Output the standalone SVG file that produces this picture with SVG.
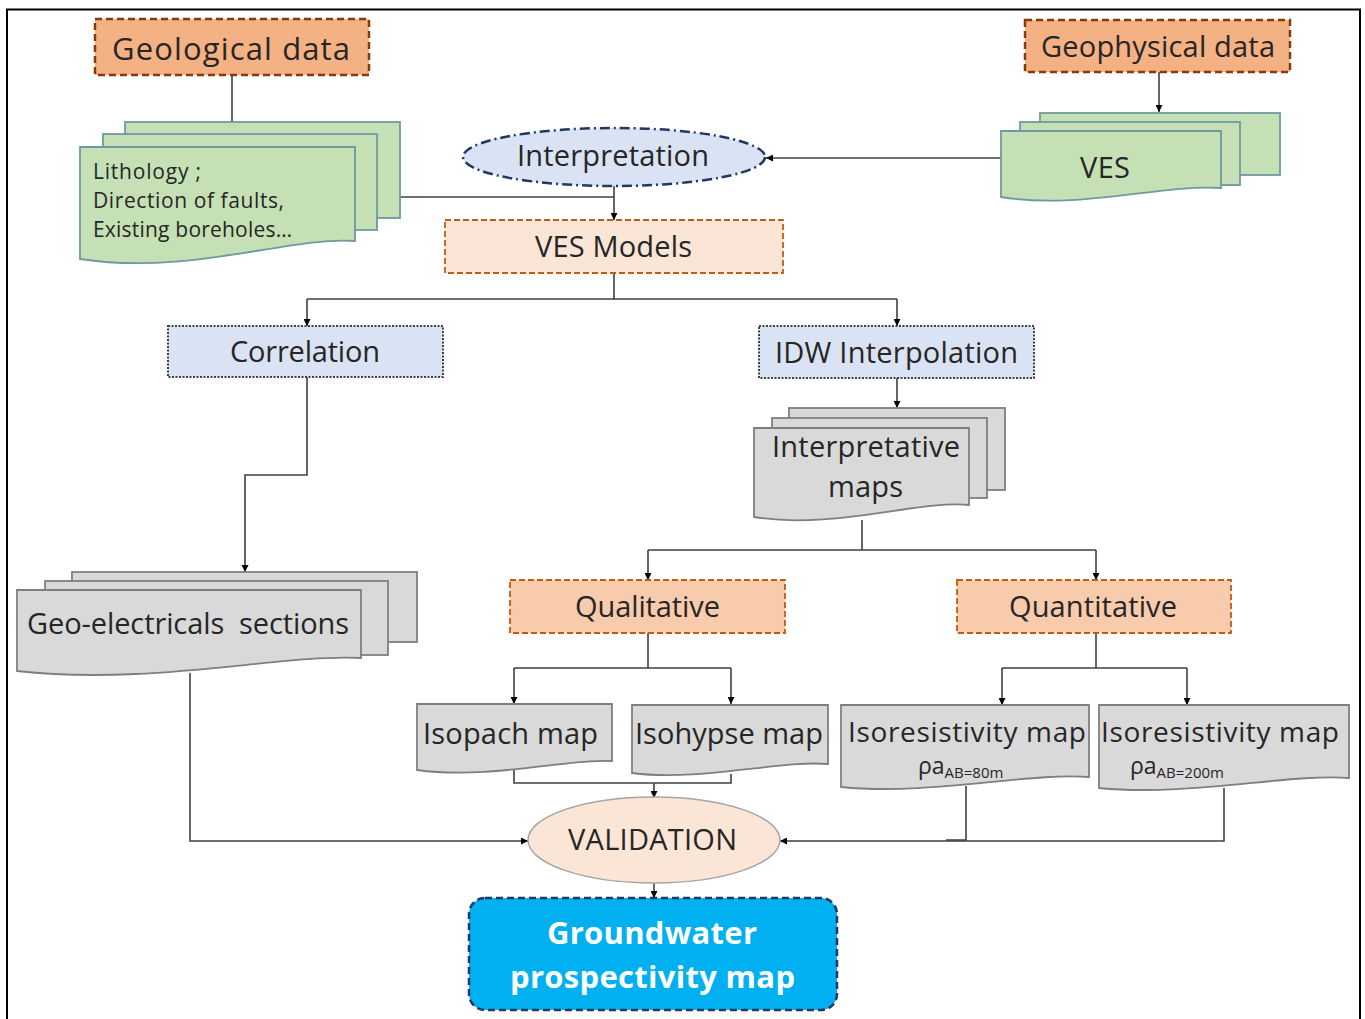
<svg xmlns="http://www.w3.org/2000/svg" width="1365" height="1019" viewBox="0 0 1365 1019">
<style>
text{font-family:"Open Sans","Noto Sans","DejaVu Sans",sans-serif;fill:#262626}
.t28{font-size:29px}
.t20{font-size:21px}
.orange{fill:#f4b183;stroke:#843c0c;stroke-width:2.5;stroke-dasharray:7 4}
.peach{fill:#fbe5d6;stroke:#c55a11;stroke-width:1.8;stroke-dasharray:6 3}
.orange2{fill:#f8cbad;stroke:#c55a11;stroke-width:1.8;stroke-dasharray:6 3}
.blue{fill:#dae3f3;stroke:#404040;stroke-width:2;stroke-dasharray:2 1.5}
.green{fill:#c5e0b4;stroke:#6f9aa0;stroke-width:1.8}
.grey{fill:#d9d9d9;stroke:#7f7f7f;stroke-width:1.8}
.conn{fill:none;stroke:#404040;stroke-width:1.6}
.gw{font-size:31px;font-weight:bold;fill:#fff}
</style>
<defs>
<marker id="ah" viewBox="0 0 10 10" refX="10" refY="5" markerWidth="7" markerHeight="7" markerUnits="userSpaceOnUse" orient="auto">
<path d="M0,0 L10,5 L0,10 z" fill="#000"/>
</marker>
</defs>
<rect x="0" y="0" width="1365" height="1019" fill="#fff"/>
<rect x="7" y="9.5" width="1353" height="1030" fill="none" stroke="#000" stroke-width="2"/>

<g id="connectors">
<path class="conn" d="M232,76 V122"/>
<path class="conn" d="M1159,72 V112" marker-end="url(#ah)"/>
<path class="conn" d="M1001,158 H766" marker-end="url(#ah)"/>
<path class="conn" d="M400,197 H614"/>
<path class="conn" d="M614,186 V220" marker-end="url(#ah)"/>
<path class="conn" d="M614,273 V299 M307,299 H897"/>
<path class="conn" d="M307,299 V326" marker-end="url(#ah)"/>
<path class="conn" d="M897,299 V326" marker-end="url(#ah)"/>
<path class="conn" d="M307,377 V475 H245 V572" marker-end="url(#ah)"/>
<path class="conn" d="M897,378 V408" marker-end="url(#ah)"/>
<path class="conn" d="M862,520 V550 M648,550 H1096"/>
<path class="conn" d="M648,550 V580" marker-end="url(#ah)"/>
<path class="conn" d="M1096,550 V580" marker-end="url(#ah)"/>
<path class="conn" d="M648,633 V668 M514,668 H731"/>
<path class="conn" d="M514,668 V704" marker-end="url(#ah)"/>
<path class="conn" d="M731,668 V704" marker-end="url(#ah)"/>
<path class="conn" d="M1096,633 V668 M1002,668 H1187"/>
<path class="conn" d="M1002,668 V705" marker-end="url(#ah)"/>
<path class="conn" d="M1187,668 V705" marker-end="url(#ah)"/>
<path class="conn" d="M514,770 V783 H731 V774"/>
<path class="conn" d="M654,783 V798" marker-end="url(#ah)"/>
<path class="conn" d="M190,673 V841 H528" marker-end="url(#ah)"/>
<path class="conn" d="M966,786 V840 H946"/>
<path class="conn" d="M1224,788 V841 H780" marker-end="url(#ah)"/>
<path class="conn" d="M654,883 V898" marker-end="url(#ah)"/>
</g>

<g id="geological-data">
<rect class="orange" x="95" y="19" width="274" height="56"/>
<text x="112" y="60" textLength="238" lengthAdjust="spacing" style="font-size:31px">Geological data</text>
</g>

<g id="geophysical-data">
<rect class="orange" x="1025" y="20" width="265" height="52"/>
<text x="1041" y="57" textLength="234" lengthAdjust="spacing" style="font-size:29px">Geophysical data</text>
</g>

<g id="geology-docs">
<rect class="green" x="125" y="122" width="275" height="96"/>
<rect class="green" x="103" y="134" width="274" height="96"/>
<path class="green" d="M80,147 H355 V241 C290,236 190,276 80,259 Z"/>
<text class="t20" x="93" y="179" textLength="108" lengthAdjust="spacing">Lithology ;</text>
<text class="t20" x="93" y="208" textLength="191" lengthAdjust="spacing">Direction of faults,</text>
<text class="t20" x="93" y="237" textLength="199" lengthAdjust="spacing">Existing boreholes…</text>
</g>

<g id="interpretation">
<ellipse cx="614" cy="157" rx="151" ry="29" fill="#dae3f3" stroke="#203864" stroke-width="2.5" stroke-dasharray="10 4 2 4"/>
<text class="t28" x="517" y="166" textLength="192" lengthAdjust="spacing">Interpretation</text>
</g>

<g id="ves">
<rect class="green" x="1040" y="113" width="240" height="62"/>
<rect class="green" x="1020" y="122" width="220" height="63"/>
<path class="green" d="M1001,131 H1221 V188 C1160,184 1080,210 1001,197 Z"/>
<text class="t28" x="1080" y="178" textLength="50" lengthAdjust="spacing">VES</text>
</g>

<g id="ves-models">
<rect class="peach" x="445" y="220" width="338" height="53"/>
<text class="t28" x="535" y="257" textLength="157" lengthAdjust="spacing">VES Models</text>
</g>

<g id="correlation">
<rect class="blue" x="168" y="326" width="275" height="51"/>
<text class="t28" x="230" y="362" textLength="150" lengthAdjust="spacing">Correlation</text>
</g>

<g id="idw">
<rect class="blue" x="759" y="326" width="275" height="52"/>
<text class="t28" x="775" y="363" textLength="243" lengthAdjust="spacing">IDW Interpolation</text>
</g>

<g id="geo-electrical">
<rect class="grey" x="72" y="572" width="345" height="70"/>
<rect class="grey" x="45" y="581" width="343" height="74"/>
<path class="grey" d="M17,590 H361 V658 C280,654 150,686 17,671 Z"/>
<text class="t28" x="27" y="634" textLength="322" lengthAdjust="spacing" style="white-space:pre">Geo-electricals  sections</text>
</g>

<g id="interpretative-maps">
<rect class="grey" x="789" y="408" width="216" height="82"/>
<rect class="grey" x="772" y="418" width="215" height="80"/>
<path class="grey" d="M754,428 H969 V505 C920,500 830,530 754,517 Z"/>
<text class="t28" x="772" y="457" textLength="188" lengthAdjust="spacing">Interpretative</text>
<text class="t28" x="828" y="497" textLength="75" lengthAdjust="spacing">maps</text>
</g>

<g id="qualitative">
<rect class="orange2" x="510" y="580" width="275" height="53"/>
<text class="t28" x="575" y="617" textLength="145" lengthAdjust="spacing">Qualitative</text>
</g>

<g id="quantitative">
<rect class="orange2" x="957" y="580" width="274" height="53"/>
<text class="t28" x="1009" y="617" textLength="168" lengthAdjust="spacing">Quantitative</text>
</g>

<g id="isopach">
<path class="grey" d="M417,704 H612 V761 C570,758 490,780 417,770 Z"/>
<text class="t28" x="423" y="744" textLength="175" lengthAdjust="spacing">Isopach map</text>
</g>

<g id="isohypse">
<path class="grey" d="M632,705 H828 V764 C780,760 700,782 632,773 Z"/>
<text class="t28" x="635" y="744" textLength="188" lengthAdjust="spacing">Isohypse map</text>
</g>

<g id="isoresistivity-80">
<path class="grey" d="M841,705 H1089 V777 C1030,772 930,796 841,787 Z"/>
<text x="848" y="742" textLength="238" lengthAdjust="spacing" style="font-size:28px">Isoresistivity map</text>
<text x="918" y="774" style="font-size:23px">ρa<tspan dy="4" style="font-size:15px">AB=80m</tspan></text>
</g>

<g id="isoresistivity-200">
<path class="grey" d="M1099,705 H1349 V778 C1290,773 1190,797 1099,788 Z"/>
<text x="1101" y="742" textLength="238" lengthAdjust="spacing" style="font-size:28px">Isoresistivity map</text>
<text x="1130" y="774" style="font-size:23px">ρa<tspan dy="4" style="font-size:15px">AB=200m</tspan></text>
</g>

<g id="validation">
<ellipse cx="654" cy="840" rx="126" ry="43" fill="#fbe5d6" stroke="#a5a5a5" stroke-width="1.5"/>
<text class="t28" x="568" y="850" textLength="169" lengthAdjust="spacing">VALIDATION</text>
</g>

<g id="groundwater">
<rect x="469" y="898" width="368" height="112" rx="16" fill="#00b0f0" stroke="#203864" stroke-width="2.5" stroke-dasharray="7 4"/>
<text class="gw" x="547" y="944" textLength="210" lengthAdjust="spacing">Groundwater</text>
<text class="gw" x="510" y="988" textLength="285" lengthAdjust="spacing">prospectivity map</text>
</g>
</svg>
